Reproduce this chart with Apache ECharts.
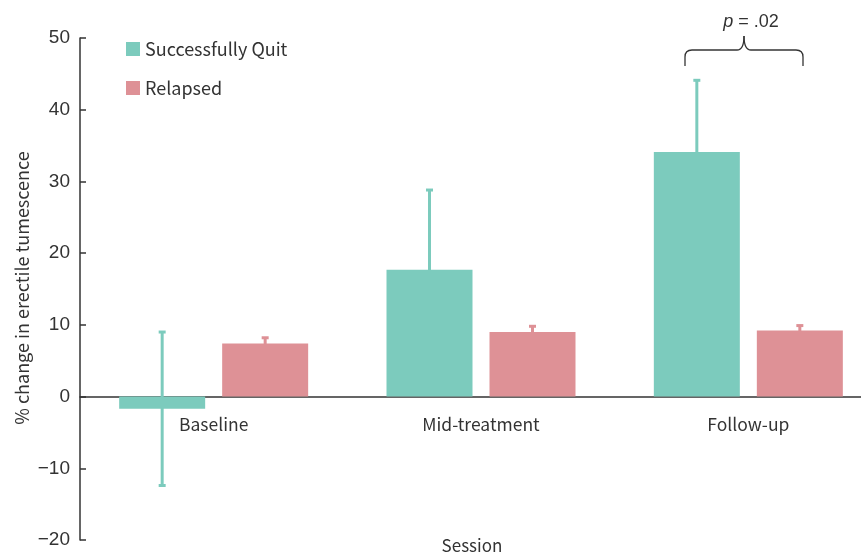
<!DOCTYPE html>
<html>
<head>
<meta charset="utf-8">
<script src="https://cdn.jsdelivr.net/npm/echarts@6/dist/echarts.min.js"></script>
<style>html,body{margin:0;padding:0;background:#fff}#c{width:861px;height:555px}</style>
</head>
<body>
<div id="c"></div>
<script>
var categories = ['Baseline', 'Mid-treatment', 'Follow-up'];
var quitMean = [-1.7, 17.7, 34.1];
var quitErr = [10.7, 11.1, 10.0];
var relapsedMean = [7.4, 9.0, 9.2];
var relapsedErr = [0.8, 0.8, 0.7];
var yTicks = { min: -20, max: 50, interval: 10 };

var GREEN = '#7ccbbd', RED = '#de9196';
var FONT = '"Noto Sans CJK KR", "Noto Sans", sans-serif';
var BARW = 86, GAP = 17;

function errData(mean, err) {
  return mean.map(function (m, i) { return [i, m - err[i], m + err[i]]; });
}
function errSeries(name, mean, err, color, side) {
  return {
    type: 'custom', name: name + ' err', z: 1, silent: true,
    data: errData(mean, err),
    renderItem: function (params, api) {
      var off = side * (BARW + GAP) / 2;
      var lo = api.coord([api.value(0), api.value(1)]);
      var hi = api.coord([api.value(0), api.value(2)]);
      var x = lo[0] + off, cap = 3.5;
      var st = { stroke: color, lineWidth: 3 };
      return { type: 'group', children: [
        { type: 'line', shape: { x1: x, y1: lo[1], x2: x, y2: hi[1] }, style: st },
        { type: 'line', shape: { x1: x - cap, y1: hi[1], x2: x + cap, y2: hi[1] }, style: st },
        { type: 'line', shape: { x1: x - cap, y1: lo[1], x2: x + cap, y2: lo[1] }, style: st }
      ]};
    }
  };
}

var BR = { stroke: '#333', lineWidth: 1.3, fill: null };
function bz(x1, y1, cx, cy, x2, y2) {
  return { type: 'bezierCurve', z: 10, shape: { x1: x1, y1: y1, x2: x2, y2: y2, cpx1: cx, cpy1: cy }, style: BR };
}
function ln(x1, y1, x2, y2) {
  return { type: 'line', z: 10, shape: { x1: x1, y1: y1, x2: x2, y2: y2 }, style: BR };
}

var chart = echarts.init(document.getElementById('c'));
chart.setOption({
  animation: false,
  textStyle: { fontFamily: FONT },
  grid: { left: 80, right: -21, top: 38, bottom: 15, outerBoundsMode: 'none', containLabel: false },
  legend: {
    orient: 'vertical', left: 121, top: 35, itemWidth: 14, itemHeight: 14, itemGap: 21, icon: 'rect',
    data: ['Successfully Quit', 'Relapsed'],
    textStyle: { fontSize: 18, color: '#333', fontFamily: FONT }
  },
  xAxis: {
    type: 'category', data: categories,
    axisLine: { onZero: true, lineStyle: { color: '#333', width: 1.5 } },
    axisTick: { show: false },
    axisLabel: { show: false }
  },
  yAxis: {
    type: 'value', min: yTicks.min, max: yTicks.max, interval: yTicks.interval,
    splitLine: { show: false },
    axisLine: { show: true, lineStyle: { color: '#333', width: 1.5 } },
    axisTick: { show: true, inside: true, length: 6, lineStyle: { color: '#333', width: 1.5 } },
    axisLabel: { fontSize: 19, color: '#333', margin: 10, fontFamily: '"Liberation Sans", sans-serif',
      formatter: function (v) { return v < 0 ? '\u2212' + Math.abs(v) : String(v); } }
  },
  series: [
    { type: 'bar', name: 'Successfully Quit', data: quitMean, barWidth: BARW, barGap: (GAP / BARW * 100) + '%',
      itemStyle: { color: GREEN }, z: 2 },
    { type: 'bar', name: 'Relapsed', data: relapsedMean, barWidth: BARW,
      itemStyle: { color: RED }, z: 2 },
    errSeries('Successfully Quit', quitMean, quitErr, GREEN, -1),
    errSeries('Relapsed', relapsedMean, relapsedErr, RED, 1),
    { type: 'custom', name: 'category labels', silent: true, z: 5,
      data: categories.map(function (c, i) { return [i, 0]; }),
      renderItem: function (params, api) {
        var p = api.coord([api.value(0), api.value(1)]);
        return { type: 'text', x: p[0], y: p[1] + 28,
          style: { text: categories[params.dataIndex], fontSize: 17.5, fill: '#333', fontFamily: FONT,
            align: 'center', verticalAlign: 'middle' } };
      } }
  ],
  graphic: [
    { type: 'text', x: 22, y: 288, rotation: Math.PI / 2,
      style: { text: '% change in erectile tumescence', fontSize: 18, fill: '#333', fontFamily: FONT,
        align: 'center', verticalAlign: 'middle' } },
    { type: 'text', x: 472, y: 546,
      style: { text: 'Session', fontSize: 17, fill: '#333', fontFamily: FONT, align: 'center', verticalAlign: 'middle' } },
    { type: 'text', x: 751, y: 22,
      style: { text: '{i|p} = .02', fill: '#333', fontSize: 18, fontFamily: '"Liberation Sans", sans-serif',
        align: 'center', verticalAlign: 'middle',
        rich: { i: { fontStyle: 'italic', fontSize: 18, fontFamily: '"Liberation Sans", sans-serif', fill: '#333' } } } },
    ln(685, 66, 685, 57),
    bz(685, 57, 685, 50, 692, 50),
    ln(692, 50, 737, 50),
    bz(737, 50, 744, 50, 744, 36),
    bz(744, 36, 744, 50, 751, 50),
    ln(751, 50, 796, 50),
    bz(796, 50, 803, 50, 803, 57),
    ln(803, 57, 803, 66)
  ]
});
</script>
</body>
</html>
